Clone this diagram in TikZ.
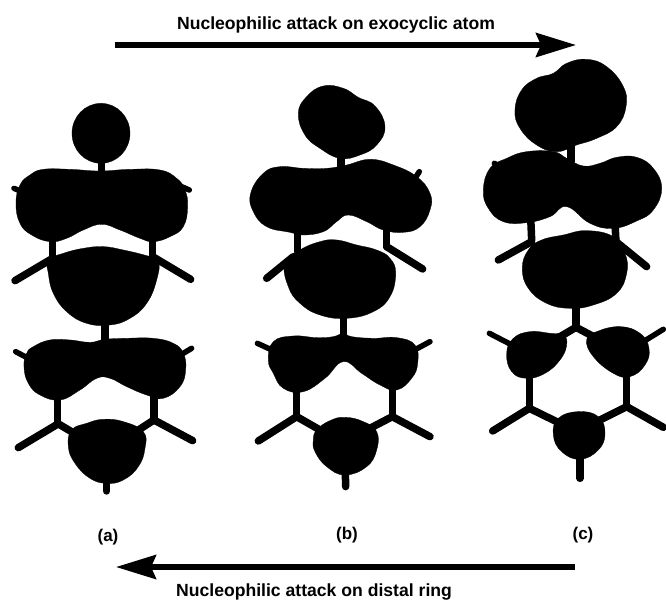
\documentclass[tikz,border=0pt]{standalone}
\usepackage{fontspec}
\setmainfont{Liberation Sans}
\usetikzlibrary{arrows.meta,positioning}
\begin{document}
\begin{tikzpicture}[x=1pt,y=-1pt,every node/.style={font=\bfseries\fontsize{17.6}{19}\selectfont,inner sep=0pt}]
  \tikzset{
    lobe/.style={fill=black,draw=black,line width=.3pt},
    bond/.style={draw=black,line width=7.5pt,line cap=round},
    stub/.style={draw=black,line width=5.5pt,line cap=round},
    attack/.style={draw=black,line width=5.5pt,-{Stealth[length=40pt,width=24pt,inset=5pt]}}
  }
  \useasboundingbox (0,0) rectangle (666,603);
  % arrows and texts
  \coordinate (ex0) at (115,45);
  \coordinate (ex1) at (576,45);
  \coordinate (di0) at (575,567);
  \coordinate (di1) at (116,567);
  \draw[attack] (ex0)--(ex1);
  \draw[attack] (di0)--(di1);
  \node (extext) at (336,25) {Nucleophilic attack on exocyclic atom};
  \node (ditext) at (314,592) {Nucleophilic attack on distal ring};
  \node[font=\bfseries\fontsize{17}{19}\selectfont] (laba) at (108,537) {(a)};
  \node[font=\bfseries\fontsize{17}{19}\selectfont] (labb) at (347,535) {(b)};
  \node[font=\bfseries\fontsize{17}{19}\selectfont] (labc) at (583,535) {(c)};
  % molecule a
  \begin{scope}[shift={(0,90)},x=.3333pt,y=-.3333pt,smooth cycle,tension=.75]
    \foreach \xa/\ya/\xb/\yb in {305/160/305/245,158/440/158/505,458/440/458/500,158/505/45/572,458/500/572/568,315/700/315/760,172/920/172/1000,462/915/462/990,172/1000/240/1040,462/990/400/1030,172/1003/55/1073,462/990/578/1052,320/1170/320/1203}
      \draw[bond] (\xa,\ya)--(\xb,\yb);
    \foreach \xa/\ya/\xb/\yb in {42/295/65/305,568/300/545/290,47/785/85/805,575/775/545/793}
      \draw[stub] (\xa,\ya)--(\xb,\yb);
    \draw[lobe] (303,130) ellipse [x radius=87,y radius=90];
    \draw[lobe] plot coordinates {(130,238)(210,238)(300,243)(390,238)(480,240)(530,265)(555,300)(563,350)(550,410)(510,440)(460,455)(420,445)(360,420)(305,403)(250,420)(200,445)(150,455)(95,435)(60,400)(48,340)(60,285)(90,255)};
    \draw[lobe] plot coordinates {(145,510)(190,490)(250,475)(310,470)(370,480)(440,497)(475,510)(470,570)(440,640)(390,685)(330,705)(260,700)(200,665)(160,610)(145,550)};
    \draw[lobe] plot coordinates {(100,770)(150,750)(210,750)(270,757)(315,748)(380,745)(460,745)(520,760)(550,790)(557,840)(540,890)(490,925)(440,915)(380,890)(330,865)(290,865)(240,900)(180,930)(120,915)(85,880)(72,830)(80,790)};
    \draw[lobe] plot coordinates {(215,1020)(260,1000)(310,988)(370,995)(430,1025)(435,1075)(415,1130)(370,1170)(320,1180)(270,1165)(225,1120)(205,1070)};
  \end{scope}
  % molecule b
  \begin{scope}[shift={(230,70)},x=.3333pt,y=-.3333pt,smooth cycle,tension=.75]
    \foreach \xa/\ya/\xb/\yb in {333/250/333/295,203/480/203/545,470/470/470/530,190/560/110/625,470/530/578/597,340/740/340/800,200/955/200/1040,487/945/487/1040,200/1040/270/1080,487/1040/420/1075,200/1040/85/1113,487/1040/600/1100,346/1205/347/1250}
      \draw[bond] (\xa,\ya)--(\xb,\yb);
    \foreach \xa/\ya/\xb/\yb in {568/305/555/325,82/820/130/842,600/815/550/842}
      \draw[stub] (\xa,\ya)--(\xb,\yb);
    \draw[lobe] plot coordinates {(205,130)(230,80)(280,48)(340,55)(385,82)(435,108)(465,170)(440,225)(390,255)(330,265)(270,235)(225,195)};
    \draw[lobe] plot coordinates {(100,310)(150,290)(220,295)(290,295)(350,285)(420,268)(490,285)(560,320)(600,370)(600,420)(570,470)(520,487)(460,480)(410,455)(355,435)(320,455)(280,485)(220,495)(180,487)(110,470)(70,425)(62,370)};
    \draw[lobe] plot coordinates {(165,580)(210,540)(270,515)(320,510)(380,525)(440,540)(480,565)(497,610)(480,680)(430,725)(350,745)(270,735)(210,700)(175,650)};
    \draw[lobe] plot coordinates {(130,815)(190,798)(260,803)(310,800)(340,790)(365,800)(430,805)(500,803)(555,825)(563,880)(545,925)(500,960)(450,945)(395,910)(340,875)(285,925)(220,965)(160,955)(130,910)(115,870)};
    \draw[lobe] plot coordinates {(260,1080)(300,1052)(345,1042)(400,1055)(440,1085)(440,1140)(410,1190)(345,1215)(290,1190)(255,1145)(250,1110)};
  \end{scope}
  % molecule c
  \begin{scope}[shift={(450,40)},x=.3333pt,y=-.3333pt,smooth cycle,tension=.75]
    \foreach \xa/\ya/\xb/\yb in {363/320/363/365,242/530/245/600,495/550/498/605,245/605/145/660,498/605/590/680,378/795/378/860,378/862/305/905,378/862/450/900,238/1000/238/1105,530/995/530/1100,238/1105/330/1150,530/1100/440/1145,238/1105/128/1173,530/1100/640/1162,390/1250/390/1315}
      \draw[bond] (\xa,\ya)--(\xb,\yb);
    \foreach \xa/\ya/\xb/\yb in {133/370/155/382,118/880/180/912,640/868/585/902}
      \draw[stub] (\xa,\ya)--(\xb,\yb);
    \draw[lobe] plot coordinates {(195,210)(215,150)(260,115)(310,100)(350,70)(410,58)(470,80)(520,140)(528,200)(500,260)(440,295)(380,315)(320,335)(260,315)(210,265)};
    \draw[lobe] plot coordinates {(100,450)(120,385)(170,355)(230,335)(310,335)(350,355)(400,378)(450,370)(500,352)(560,352)(610,385)(635,445)(610,510)(560,543)(490,565)(420,550)(350,500)(300,530)(230,548)(160,545)(115,505)};
    \draw[lobe] plot coordinates {(235,630)(275,600)(340,585)(410,572)(490,590)(525,640)(530,700)(500,760)(430,795)(360,805)(290,790)(235,745)(217,685)};
    \draw[lobe] plot coordinates {(170,940)(190,895)(240,875)(300,880)(340,885)(350,915)(330,960)(285,1000)(230,1015)(185,995)};
    \draw[lobe] plot coordinates {(410,900)(440,875)(510,860)(570,880)(597,925)(585,975)(540,1010)(490,1000)(430,950)};
    \draw[lobe] plot coordinates {(325,1135)(385,1115)(445,1130)(465,1180)(445,1230)(390,1258)(335,1235)(310,1185)};
  \end{scope}
\end{tikzpicture}
\end{document}
